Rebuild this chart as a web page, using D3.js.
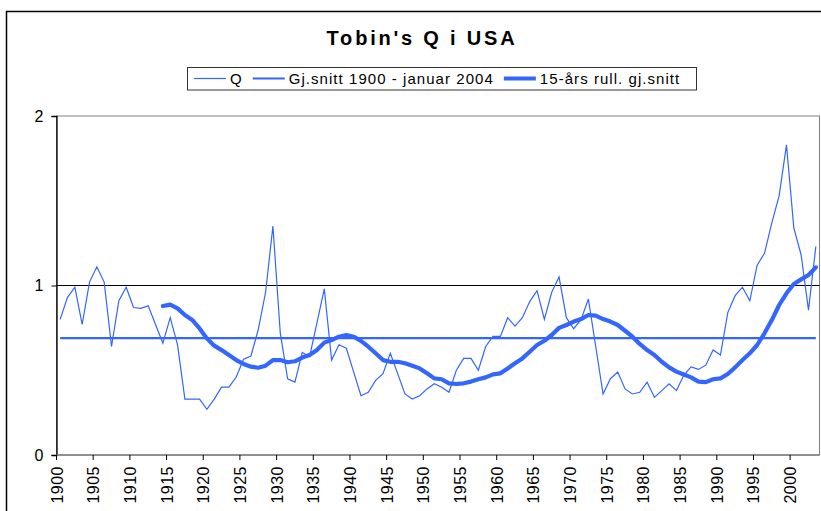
<!DOCTYPE html>
<html>
<head>
<meta charset="utf-8">
<script src="https://cdn.jsdelivr.net/npm/d3@7"></script>
<style>
  body { margin: 0; background: #fff; }
  text { font-family: "Liberation Sans", Arial, sans-serif; }
</style>
</head>
<body>
<div class="chart-container"></div>
<script>
const years = d3.range(1900, 2004);

const qValues = [
  0.80, 0.93, 0.99, 0.77, 1.02, 1.11, 1.02, 0.64, 0.91, 0.99,
  0.87, 0.865, 0.88, 0.77, 0.66, 0.81, 0.65, 0.33, 0.33, 0.33,
  0.27, 0.33, 0.40, 0.40, 0.46, 0.565, 0.584, 0.74, 0.96, 1.35,
  0.72, 0.45, 0.43, 0.605, 0.58, 0.78, 0.98, 0.56, 0.65, 0.63,
  0.49, 0.35, 0.37, 0.44, 0.48, 0.60, 0.48, 0.36, 0.33, 0.35,
  0.39, 0.42, 0.40, 0.37, 0.50, 0.57, 0.57, 0.50, 0.64, 0.70,
  0.70, 0.81, 0.76, 0.81, 0.905, 0.97, 0.80, 0.96, 1.05, 0.81,
  0.745, 0.80, 0.92, 0.64, 0.36, 0.45, 0.49, 0.39, 0.36, 0.37,
  0.43, 0.34, 0.38, 0.42, 0.38, 0.47, 0.52, 0.505, 0.53, 0.62,
  0.59, 0.84, 0.94, 0.99, 0.91, 1.12, 1.19, 1.37, 1.53, 1.83,
  1.34, 1.18, 0.855, 1.23
];

// 15-year rolling mean, first value in 1914
const rollStart = 1914;
const rollValues = [
  0.879, 0.887, 0.865, 0.826, 0.797, 0.747, 0.688, 0.645, 0.619, 0.59,
  0.56, 0.537, 0.521, 0.515, 0.527, 0.56, 0.56, 0.547, 0.553, 0.575,
  0.59, 0.62, 0.663, 0.678, 0.698, 0.708, 0.698, 0.673, 0.639, 0.60,
  0.56, 0.55, 0.55, 0.541, 0.527, 0.511, 0.482, 0.452, 0.447, 0.423,
  0.419, 0.423, 0.433, 0.447, 0.458, 0.476, 0.482, 0.511, 0.541, 0.57,
  0.609, 0.649, 0.674, 0.708, 0.75, 0.767, 0.787, 0.802, 0.826, 0.822,
  0.802, 0.787, 0.767, 0.733, 0.698, 0.655, 0.619, 0.59, 0.55, 0.517,
  0.492, 0.475, 0.458, 0.433, 0.43, 0.447, 0.452, 0.478, 0.517, 0.56,
  0.60, 0.649, 0.718, 0.796, 0.885, 0.954, 1.009, 1.036, 1.062, 1.107
];

const meanValue = 0.69;
const yTicks = [0, 1, 2];
const legendLabels = ["Q", "Gj.snitt 1900 - januar 2004", "15-års rull. gj.snitt"];

const blue = "#3366ff";
const width = 821, height = 511;
const margin = {top: 116, right: 1.5, bottom: 56, left: 56.5};

const svg = d3.select(".chart-container").append("svg")
    .attr("width", width)
    .attr("height", height);

// outer chart frame
svg.append("rect")
    .attr("x", 6.5).attr("y", 11.5)
    .attr("width", 830).attr("height", 520)
    .attr("fill", "none")
    .attr("stroke", "#000")
    .attr("stroke-width", 1.5);

svg.append("text")
    .attr("x", 422).attr("y", 45)
    .attr("text-anchor", "middle")
    .style("font-size", "20px")
    .style("font-weight", "bold")
    .style("letter-spacing", "2.8px")
    .text("Tobin's Q i USA");

const x = d3.scaleBand()
    .domain(years)
    .range([margin.left, width - margin.right]);

const y = d3.scaleLinear()
    .domain([0, 2])
    .range([height - margin.bottom, margin.top]);

const cx = (yr) => x(yr) + x.bandwidth() / 2;

// plot area border
svg.append("rect")
    .attr("x", margin.left).attr("y", y(2))
    .attr("width", x.range()[1] - margin.left)
    .attr("height", y(0) - y(2))
    .attr("fill", "none")
    .attr("stroke", "#808080")
    .attr("stroke-width", 1);

svg.append("line")
    .attr("x1", margin.left).attr("x2", x.range()[1])
    .attr("y1", y(1)).attr("y2", y(1))
    .attr("stroke", "#000")
    .attr("stroke-width", 1);

// y axis
const yAxis = svg.append("g")
    .attr("transform", "translate(" + margin.left + ",0)")
    .call(d3.axisLeft(y).tickValues(yTicks).tickFormat(d3.format("d")).tickSize(5).tickPadding(8));
yAxis.select(".domain").attr("stroke", "#000").attr("stroke-width", 1.3);
yAxis.selectAll("text").style("font-size", "16px").attr("fill", "#000");

// x axis, ticks at category boundaries every 5 years
const labelYears = years.filter((d) => d % 5 === 0);
const xAxis = svg.append("g")
    .attr("transform", "translate(0," + y(0) + ")");
xAxis.append("line")
    .attr("x1", margin.left).attr("x2", x.range()[1])
    .attr("stroke", "#808080").attr("stroke-width", 1.3);
xAxis.selectAll(".tick")
    .data(labelYears)
  .enter().append("line")
    .attr("x1", (d) => x(d)).attr("x2", (d) => x(d))
    .attr("y1", 0).attr("y2", 5)
    .attr("stroke", "#000");
xAxis.selectAll(".label")
    .data(labelYears)
  .enter().append("text")
    .attr("transform", (d) => "translate(" + (x(d) + 6) + ",11) rotate(-90)")
    .attr("text-anchor", "end")
    .style("font-size", "16px")
    .style("letter-spacing", "0.5px")
    .text((d) => d);

const line = d3.line()
    .x((d) => cx(d.year))
    .y((d) => y(d.value));

const qData = years.map((yr, i) => ({year: yr, value: qValues[i]}));
const rollData = rollValues.map((v, i) => ({year: rollStart + i, value: v}));
const meanData = [{year: years[0], value: meanValue}, {year: years[years.length - 1], value: meanValue}];

svg.append("path")
    .datum(meanData)
    .attr("d", line)
    .attr("fill", "none")
    .attr("stroke", blue)
    .attr("stroke-width", 2.2);

svg.append("path")
    .datum(qData)
    .attr("d", line)
    .attr("fill", "none")
    .attr("stroke", blue)
    .attr("stroke-width", 1.2);

svg.append("path")
    .datum(rollData)
    .attr("d", line)
    .attr("fill", "none")
    .attr("stroke", blue)
    .attr("stroke-width", 4.2)
    .attr("stroke-linejoin", "round")
    .attr("stroke-linecap", "round");

// legend
const legend = svg.append("g");
legend.append("rect")
    .attr("x", 187.5).attr("y", 67.5)
    .attr("width", 509).attr("height", 22.5)
    .attr("fill", "#fff")
    .attr("stroke", "#333")
    .attr("stroke-width", 1);

const strokeWidths = [1.2, 2.2, 4.2];
let lx = 194;
legendLabels.forEach((label, i) => {
  legend.append("line")
      .attr("x1", lx).attr("x2", lx + 32)
      .attr("y1", 78.5).attr("y2", 78.5)
      .attr("stroke", blue)
      .attr("stroke-width", strokeWidths[i]);
  const t = legend.append("text")
      .attr("x", lx + 36).attr("y", 83.5)
      .style("font-size", "15px")
      .style("letter-spacing", "1.05px")
      .text(label);
  lx += 36 + t.node().getComputedTextLength() + 10;
});
</script>
</body>
</html>
